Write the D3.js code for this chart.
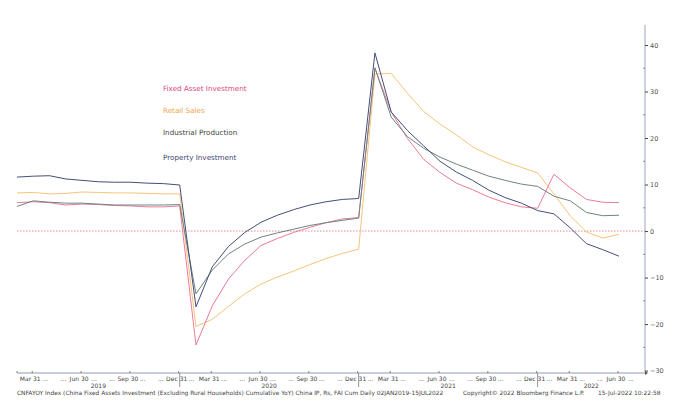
<!DOCTYPE html>
<html><head><meta charset="utf-8">
<script src="https://cdn.jsdelivr.net/npm/d3@7"></script>
<style>
html,body{margin:0;padding:0;background:#fff;}
svg{display:block;}
text{font-family:"DejaVu Sans",sans-serif;}
</style></head>
<body>
<svg id="chart" width="700" height="417"></svg>
<script>
// ---------- DATA ----------
const periods = [
 "2019-02","2019-03","2019-04","2019-05","2019-06","2019-07","2019-08","2019-09","2019-10","2019-11","2019-12",
 "2020-02","2020-03","2020-04","2020-05","2020-06","2020-07","2020-08","2020-09","2020-10","2020-11","2020-12",
 "2021-02","2021-03","2021-04","2021-05","2021-06","2021-07","2021-08","2021-09","2021-10","2021-11","2021-12",
 "2022-02","2022-03","2022-04","2022-05","2022-06"
];
const fixedAssetInvestment = [
 6.1,6.3,6.1,5.6,5.8,5.7,5.5,5.4,5.2,5.2,5.4,
 -24.5,-16.1,-10.3,-6.3,-3.1,-1.6,-0.3,0.8,1.8,2.6,2.9,
 35.0,25.6,19.9,15.4,12.6,10.3,8.9,7.3,6.1,5.2,4.9,
 12.2,9.3,6.8,6.2,6.1
];
const retailSales = [
 8.2,8.3,8.0,8.1,8.4,8.3,8.2,8.2,8.1,8.0,8.0,
 -20.5,-19.0,-16.2,-13.5,-11.4,-9.9,-8.6,-7.2,-5.9,-4.8,-3.9,
 33.8,33.9,29.6,25.7,23.0,20.7,18.1,16.4,14.9,13.7,12.5,
 8.0,3.3,-0.2,-1.5,-0.7
];
const industrialProduction = [
 5.3,6.5,6.2,6.0,6.0,5.8,5.6,5.6,5.6,5.6,5.7,
 -13.5,-8.4,-4.9,-2.8,-1.3,-0.4,0.4,1.2,1.8,2.3,2.8,
 35.1,24.5,20.3,17.8,15.9,14.4,13.1,11.8,10.9,10.1,9.6,
 7.5,6.5,4.0,3.3,3.4
];
const propertyInvestment = [
 11.6,11.8,11.9,11.2,10.9,10.6,10.5,10.5,10.3,10.2,9.9,
 -16.3,-7.7,-3.3,-0.3,1.9,3.4,4.6,5.6,6.3,6.8,7.0,
 38.3,25.6,21.6,18.3,15.0,12.7,10.9,8.8,7.2,6.0,4.4,
 3.7,0.7,-2.7,-4.0,-5.4
];
const seriesNames = ["Fixed Asset Investment","Retail Sales","Industrial Production","Property Investment"];
const yTicks = [-30,-20,-10,0,10,20,30,40];
const yMinorTicks = [-25,-15,-5,5,15,25,35];
const xTickPeriods = ["2019-03","2019-06","2019-09","2019-12","2020-03","2020-06","2020-09","2020-12",
                      "2021-03","2021-06","2021-09","2021-12","2022-03","2022-06"];
const xTickLabels = ["Mar 31","Jun 30","Sep 30","Dec 31","Mar 31","Jun 30","Sep 30","Dec 31",
                     "Mar 31","Jun 30","Sep 30","Dec 31","Mar 31","Jun 30"];
const yearLabels = ["2019","2020","2021","2022"];
const yearEndPeriods = ["2019-12","2020-12","2021-12"];
const footerSource = "CNFAYOY Index (China Fixed Assets Investment (Excluding Rural Households) Cumulative YoY) China IP, Rs, FAI Cum  Daily 02JAN2019-15JUL2022";
const footerCopyright = "Copyright\u00A9 2022 Bloomberg Finance L.P.";
const footerStamp = "15-Jul-2022 10:22:58";

(function(){
const svg = d3.select("#chart");
const pLeft = 17, pRight = 645, pTop = 25, pBottom = 372;
const step = 16.27;
const x = d3.scalePoint().domain(periods).range([pLeft, pLeft + step*(periods.length-1)]);
const y = d3.scaleLinear().domain([-30.3, 44.3]).range([pBottom, pTop]);

const colors = ["#ea7c98","#f7c47c","#6d8580","#464e76"];
const textColors = ["#e0477a","#eea64a","#444","#3c4670"];
const series = [fixedAssetInvestment, retailSales, industrialProduction, propertyInvestment];

svg.append("line")
  .attr("x1", pLeft).attr("x2", pRight)
  .attr("y1", y(0)).attr("y2", y(0))
  .attr("stroke", "#e98a96").attr("stroke-width", 1)
  .attr("stroke-dasharray", "1.5,1.5");

const line = d3.line().x((d,i)=>x(periods[i])).y(d=>y(d));
[1,0,2,3].forEach(k=>{
  svg.append("path").datum(series[k])
    .attr("d", line)
    .attr("fill","none")
    .attr("stroke", colors[k])
    .attr("stroke-width", 1)
    .attr("stroke-linejoin","round");
});

const legendY = [88,110,132,157];
seriesNames.forEach((n,i)=>{
  svg.append("text").attr("x",163).attr("y",legendY[i]+3)
    .attr("font-size",7.2).attr("fill",textColors[i]).text(n);
});

const yAxis = d3.axisRight(y).tickValues(yTicks).tickSize(3).tickFormat(d3.format("d"));
const gy = svg.append("g").attr("transform",`translate(${pRight},0)`).call(yAxis);
gy.select(".domain").attr("stroke","#9aa6b8").attr("d",`M0,${pTop}V${pBottom}`);
gy.selectAll(".tick line").attr("stroke","#444");
gy.selectAll(".tick text").attr("font-size",6.5).attr("fill","#555").attr("x",5)
  .attr("font-family","DejaVu Sans");
yMinorTicks.forEach(v=>{
  svg.append("line").attr("x1",pRight-2).attr("x2",pRight).attr("y1",y(v)).attr("y2",y(v))
    .attr("stroke","#777").attr("stroke-width",0.8);
});

const axisY = 373;
svg.append("line").attr("x1",pLeft).attr("x2",pRight).attr("y1",axisY).attr("y2",axisY)
  .attr("stroke","#8f9cb0").attr("stroke-width",1.2);
svg.append("path").attr("d",`M${pRight},${axisY-2}L${pRight+3},${axisY}L${pRight},${axisY+2}Z`).attr("fill","#555");
[pLeft].concat(xTickPeriods.map(p=>x(p)-1)).forEach(px=>{
  svg.append("line").attr("x1",px).attr("x2",px).attr("y1",axisY-2).attr("y2",axisY)
    .attr("stroke","#666").attr("stroke-width",0.8);
});
xTickPeriods.forEach((p,i)=>{
  const px = x(p) - 3;
  svg.append("text").attr("x",px).attr("y",axisY+8).attr("text-anchor","middle")
    .attr("font-size",6).attr("fill","#444").text(xTickLabels[i]);
  svg.append("text").attr("x",px+12).attr("y",axisY+8).attr("text-anchor","start")
    .attr("font-size",6).attr("fill","#444").text("...");
  if (xTickLabels[i] !== "Mar 31") {
    svg.append("text").attr("x",px-13).attr("y",axisY+8).attr("text-anchor","end")
      .attr("font-size",6).attr("fill","#444").text("...");
  }
});
yearEndPeriods.forEach(p=>{
  svg.append("line").attr("x1",x(p)).attr("x2",x(p)).attr("y1",axisY).attr("y2",axisY+14)
    .attr("stroke","#777").attr("stroke-width",0.8);
});
const bounds = [pLeft].concat(yearEndPeriods.map(p=>x(p))).concat([pRight]);
yearLabels.forEach((yl,i)=>{
  svg.append("text").attr("x",(bounds[i]+bounds[i+1])/2).attr("y",axisY+15)
    .attr("text-anchor","middle").attr("font-size",6).attr("fill","#444").text(yl);
});

svg.append("text").attr("x",17).attr("y",395).attr("font-size",5.9).attr("fill","#444").text(footerSource);
svg.append("text").attr("x",463).attr("y",395).attr("font-size",5.9).attr("fill","#444").text(footerCopyright);
svg.append("text").attr("x",598).attr("y",395).attr("font-size",5.9).attr("fill","#444").text(footerStamp);
})();
</script>
</body></html>
